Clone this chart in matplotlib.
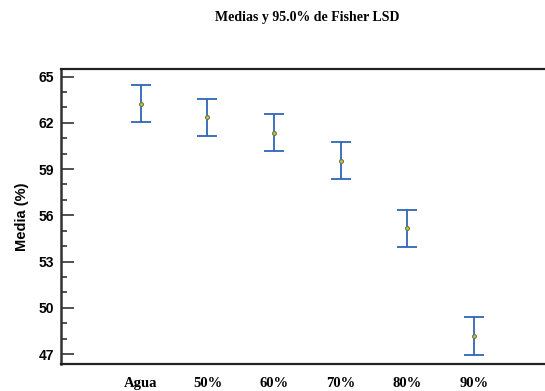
import matplotlib
matplotlib.use("Agg")
import matplotlib.pyplot as plt
from matplotlib.ticker import MultipleLocator

# Fisher LSD means and 95% intervals
categories = ["Agua", "50%", "60%", "70%", "80%", "90%"]
means = [63.25, 62.35, 61.35, 59.55, 55.15, 48.15]
lower = [62.05, 61.12, 60.15, 58.35, 53.93, 46.93]
upper = [64.45, 63.55, 62.58, 60.78, 56.35, 49.37]

yticks = [47, 50, 53, 56, 59, 62, 65]

err_lo = [m - lo for m, lo in zip(means, lower)]
err_hi = [hi - m for m, hi in zip(means, upper)]
xpos = list(range(1, len(categories) + 1))

fig = plt.figure(figsize=(5.45, 3.91), dpi=100)
ax = fig.add_axes([0.112, 0.069, 0.888, 0.755])

ax.errorbar(xpos, means, yerr=[err_lo, err_hi], fmt="none",
            ecolor="#2e67b8", elinewidth=1.3, capsize=7, capthick=1.3)
ax.plot(xpos, means, "o", ms=2.8, mfc="#c8c060", mec="#6e7a3a", mew=0.8)

ax.set_xlim(-0.2, 7.07)
ax.set_ylim(46.35, 65.5)
ax.set_yticks(yticks)
ax.yaxis.set_minor_locator(MultipleLocator(1))
ax.set_xticks(xpos)
ax.set_xticklabels(categories, family="Liberation Serif", fontweight="bold", fontsize=10.5)
for lab in ax.get_yticklabels():
    lab.set_family("Liberation Sans")
    lab.set_fontweight("bold")
    lab.set_fontsize(10)

ax.tick_params(axis="y", which="major", direction="in", length=9, width=1.2, color="#333333", pad=5)
ax.tick_params(axis="y", which="minor", direction="in", length=4.5, width=1.2, color="#333333")
ax.tick_params(axis="x", length=0, pad=9)

ax.spines["right"].set_visible(False)
ax.spines["left"].set_linewidth(1.8)
ax.spines["left"].set_color("#333333")
for s in ("top", "bottom"):
    ax.spines[s].set_linewidth(1.6)
    ax.spines[s].set_color("#222222")

ax.set_ylabel("Media (%)", family="Liberation Sans", fontweight="bold", fontsize=10.5, labelpad=7)

fig.text(307 / 545, 1 - 17 / 391, "Medias y 95.0% de Fisher LSD", ha="center", va="center",
         family="Liberation Serif", fontweight="bold", fontsize=10)

fig.savefig("out.png", dpi=100)
